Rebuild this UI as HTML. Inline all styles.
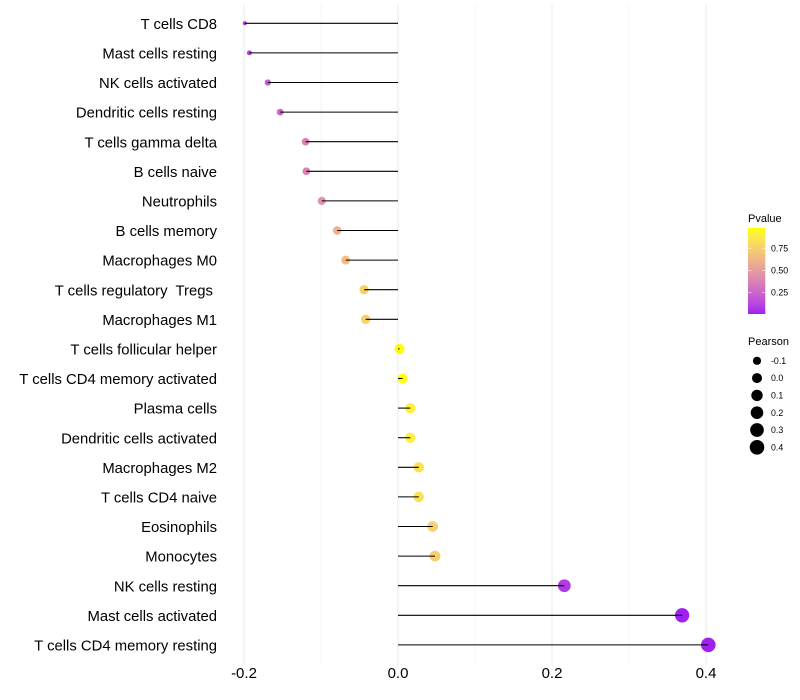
<!DOCTYPE html>
<html lang="en">
<head>
<meta charset="utf-8">
<title>Immune cell correlation lollipop chart</title>
<style>
  html, body { margin: 0; padding: 0; background: #fff; }
  svg { display: block; font-family: "Liberation Sans", sans-serif; }
</style>
</head>
<body>
<svg id="chart" xmlns="http://www.w3.org/2000/svg" width="800" height="700" viewBox="0 0 800 700">
  <defs>
    <linearGradient id="pvalue-gradient" x1="0" y1="1" x2="0" y2="0"></linearGradient>
  </defs>
  <rect x="0" y="0" width="800" height="700" fill="#ffffff"></rect>
  <g id="grid"></g>
  <g id="points"></g>
  <g id="segments"></g>
  <g id="y-labels"></g>
  <g id="x-labels"></g>
  <g id="legend-color"></g>
  <g id="legend-size"></g>
</svg>
<script>
const categories = [
  "T cells CD8", "Mast cells resting", "NK cells activated", "Dendritic cells resting",
  "T cells gamma delta", "B cells naive", "Neutrophils", "B cells memory",
  "Macrophages M0", "T cells regulatory  Tregs ", "Macrophages M1", "T cells follicular helper",
  "T cells CD4 memory activated", "Plasma cells", "Dendritic cells activated", "Macrophages M2",
  "T cells CD4 naive", "Eosinophils", "Monocytes", "NK cells resting",
  "Mast cells activated", "T cells CD4 memory resting"
];
const pearsonValues = [
  -0.199, -0.193, -0.169, -0.153, -0.120, -0.119, -0.099, -0.079, -0.068, -0.044, -0.042,
  0.002, 0.006, 0.016, 0.016, 0.027, 0.027, 0.045, 0.048, 0.216, 0.369, 0.403
];
const pValues = [
  0.09, 0.11, 0.20, 0.25, 0.38, 0.38, 0.46, 0.60, 0.66, 0.76, 0.76,
  0.98, 0.96, 0.91, 0.90, 0.84, 0.84, 0.75, 0.74, 0.08, 0.004, 0.002
];
const xTickValues = [-0.2, 0, 0.2, 0.4];
const xTickLabels = ["-0.2", "0.0", "0.2", "0.4"];
const xMinorTicks = [-0.1, 0.1, 0.3];
const pvalueBreaks = [0.25, 0.5, 0.75];
const pvalueBreakLabels = ["0.25", "0.50", "0.75"];
const pearsonBreaks = [-0.1, 0, 0.1, 0.2, 0.3, 0.4];
const pearsonBreakLabels = ["-0.1", "0.0", "0.1", "0.2", "0.3", "0.4"];

const SVG_NS = "http://www.w3.org/2000/svg";
const ZERO_X = 398, PX_PER_UNIT = 770;
const ROW_TOP = 23.3, ROW_STEP = 29.6;
const PLOT_TOP = 5, PLOT_BOTTOM = 665;
const SIZE_MIN = -0.2, SIZE_MAX = 0.403, R_MIN = 1.9, R_MAX = 7.3;
const BAR_BOTTOM = 314, BAR_TOP = 228, P_LOW = 0.003, P_HIGH = 0.98;

function xScale(v) { return ZERO_X + v * PX_PER_UNIT; }
function yScale(i) { return ROW_TOP + i * ROW_STEP; }
function rScale(v) {
  const t = Math.max(0, Math.min(1, (v - SIZE_MIN) / (SIZE_MAX - SIZE_MIN)));
  return R_MIN + (R_MAX - R_MIN) * Math.sqrt(t);
}
function pScale(p) { return BAR_BOTTOM - (p - P_LOW) / (P_HIGH - P_LOW) * (BAR_BOTTOM - BAR_TOP); }

function toLinear(c) { c /= 255; return c <= 0.04045 ? c / 12.92 : Math.pow((c + 0.055) / 1.055, 2.4); }
function fromLinear(c) {
  const v = c <= 0.0031308 ? 12.92 * c : 1.055 * Math.pow(c, 1 / 2.4) - 0.055;
  return Math.round(Math.max(0, Math.min(1, v)) * 255);
}
function rgbToLab(rgb) {
  const r = toLinear(rgb[0]), g = toLinear(rgb[1]), b = toLinear(rgb[2]);
  const f = t => t > 0.008856 ? Math.cbrt(t) : 7.787 * t + 16 / 116;
  const fx = f((0.4124 * r + 0.3576 * g + 0.1805 * b) / 0.95047);
  const fy = f(0.2126 * r + 0.7152 * g + 0.0722 * b);
  const fz = f((0.0193 * r + 0.1192 * g + 0.9505 * b) / 1.08883);
  return [116 * fy - 16, 500 * (fx - fy), 200 * (fy - fz)];
}
function labToHex(lab) {
  const fy = (lab[0] + 16) / 116, fx = fy + lab[1] / 500, fz = fy - lab[2] / 200;
  const inv = t => t * t * t > 0.008856 ? t * t * t : (t - 16 / 116) / 7.787;
  const X = 0.95047 * inv(fx), Y = inv(fy), Z = 1.08883 * inv(fz);
  const r = fromLinear(3.2406 * X - 1.5372 * Y - 0.4986 * Z);
  const g = fromLinear(-0.9689 * X + 1.8758 * Y + 0.0415 * Z);
  const b = fromLinear(0.0557 * X - 0.2040 * Y + 1.0570 * Z);
  return "rgb(" + r + "," + g + "," + b + ")";
}
const LAB_LOW = rgbToLab([160, 32, 240]);
const LAB_HIGH = rgbToLab([255, 255, 0]);
function colorAt(t) {
  const u = Math.max(0, Math.min(1, t));
  return labToHex([0, 1, 2].map(k => LAB_LOW[k] + (LAB_HIGH[k] - LAB_LOW[k]) * u));
}
function colorScale(p) { return colorAt((p - P_LOW) / (P_HIGH - P_LOW)); }

function make(tag, parent, attrs, text) {
  const el = document.createElementNS(SVG_NS, tag);
  for (const k in attrs) el.setAttribute(k, attrs[k]);
  if (text !== undefined) {
    el.setAttribute("xml:space", "preserve");
    el.style.whiteSpace = "pre";
    el.textContent = text;
  }
  parent.appendChild(el);
  return el;
}
function slug(s) { return s.trim().toLowerCase().replace(/[^a-z0-9]+/g, "-"); }

const grid = document.getElementById("grid");
xMinorTicks.forEach(function (v) {
  const el = make("line", grid, { x1: xScale(v), x2: xScale(v), y1: PLOT_TOP, y2: PLOT_BOTTOM, stroke: "#ebebeb", "stroke-width": 0.53 });
  
  
});
xTickValues.forEach(function (v) {
  const el = make("line", grid, { x1: xScale(v), x2: xScale(v), y1: PLOT_TOP, y2: PLOT_BOTTOM, stroke: "#ebebeb", "stroke-width": 1.07 });
  
  
});

const pointsG = document.getElementById("points");
const segmentsG = document.getElementById("segments");
const yLabelsG = document.getElementById("y-labels");
categories.forEach(function (name, i) {
  const key = slug(name);
  const y = yScale(i);
  const cx = xScale(pearsonValues[i]);
  const dot = make("circle", pointsG, { cx: cx, cy: y, r: rScale(pearsonValues[i]), fill: colorScale(pValues[i]) });
  
  
  const stem = make("line", segmentsG, { x1: xScale(0), x2: cx, y1: y, y2: y, stroke: "#000000", "stroke-width": 1.07 });
  
  
  const label = make("text", yLabelsG, { x: 217, y: y + 5.6, "text-anchor": "end", "font-size": 14.85, fill: "#000000" }, name);
  
  
});

const xLabelsG = document.getElementById("x-labels");
xTickValues.forEach(function (v, i) {
  const label = make("text", xLabelsG, { x: xScale(v), y: 678, "text-anchor": "middle", "font-size": 15, fill: "#000000" }, xTickLabels[i]);
  
  
});

const gradient = document.getElementById("pvalue-gradient");
for (let s = 0; s <= 20; s++) {
  make("stop", gradient, { offset: (s / 20), "stop-color": colorAt(s / 20) });
}
const legendColor = document.getElementById("legend-color");
const colorTitle = make("text", legendColor, { x: 748, y: 222, "font-size": 11, fill: "#000000" }, "Pvalue");


const colorBar = make("rect", legendColor, { x: 748, y: BAR_TOP, width: 17.3, height: BAR_BOTTOM - BAR_TOP, fill: "url(#pvalue-gradient)" });


pvalueBreaks.forEach(function (p, i) {
  const y = pScale(p);
  const tickL = make("line", legendColor, { x1: 748, x2: 751.5, y1: y, y2: y, stroke: "#ffffff", "stroke-width": 0.5 });
  
  
  const tickR = make("line", legendColor, { x1: 761.8, x2: 765.3, y1: y, y2: y, stroke: "#ffffff", "stroke-width": 0.5 });
  
  
  const label = make("text", legendColor, { x: 771, y: y + 3.1, "font-size": 8.8, fill: "#000000" }, pvalueBreakLabels[i]);
  
  
});

const legendSize = document.getElementById("legend-size");
const sizeTitle = make("text", legendSize, { x: 748, y: 345, "font-size": 11, fill: "#000000" }, "Pearson");


pearsonBreaks.forEach(function (v, i) {
  const y = 360.8 + i * 17.3;
  const key = make("circle", legendSize, { cx: 757, cy: y, r: rScale(v), fill: "#000000" });
  
  
  const label = make("text", legendSize, { x: 771, y: y + 3.1, "font-size": 8.8, fill: "#000000" }, pearsonBreakLabels[i]);
  
  
});
</script>
</body>
</html>
